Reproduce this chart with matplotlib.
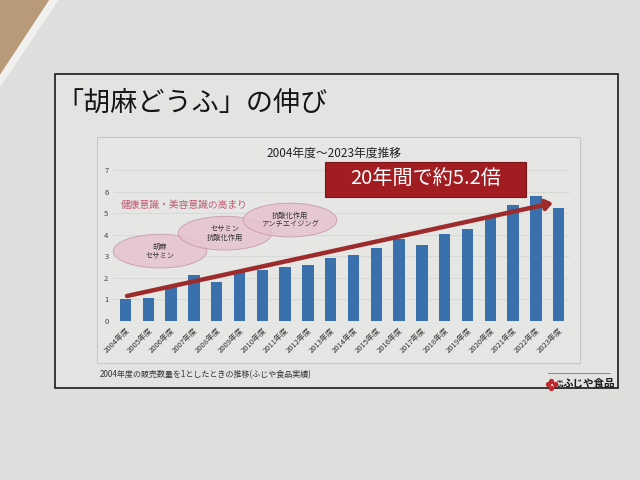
import matplotlib
matplotlib.use("Agg")
import matplotlib.pyplot as plt
from matplotlib.patches import Rectangle, Ellipse, Polygon, FancyArrowPatch

plt.rcParams['font.family'] = ['Noto Sans CJK JP', 'DejaVu Sans']

# ---- data ----
years = [str(y) + "年度" for y in range(2004, 2024)]
values = [1.0, 1.08, 1.58, 2.15, 1.83, 2.33, 2.37, 2.5, 2.6, 2.94,
          3.05, 3.4, 3.78, 3.52, 4.02, 4.25, 4.88, 5.4, 5.8, 5.22]
yticks = [0, 1, 2, 3, 4, 5, 6, 7]
slide_title = "「胡麻どうふ」の伸び"
chart_title = "2004年度～2023年度推移"
callout = "20年間で約5.2倍"
trend_label = "健康意識・美容意識の高まり"
bubbles = ["胡麻\nセサミン", "セサミン\n抗酸化作用", "抗酸化作用\nアンチエイジング"]
footnote = "2004年度の販売数量を1としたときの推移(ふじや食品実績)"
company = "ふじや食品"

W, H = 640, 480
fig = plt.figure(figsize=(6.4, 4.8), dpi=100)
fig.patch.set_facecolor('#dededc')

# background / slide decorations in pixel coordinates
bg = fig.add_axes([0, 0, 1, 1], zorder=0)
bg.set_xlim(0, W)
bg.set_ylim(H, 0)
bg.axis('off')
bg.add_patch(Polygon([[0, 0], [50, 0], [0, 76]], closed=True, color='#b89a78', zorder=1))
bg.add_patch(Polygon([[50, 0], [58, 0], [0, 86], [0, 76]], closed=True, color='#f0f0ee', zorder=1))
bg.add_patch(Rectangle((55, 74), 563, 314, facecolor='#e3e3e1', edgecolor='#1a1a1a', lw=1.2, zorder=2))
bg.add_patch(Rectangle((97, 137), 483, 226, facecolor='#e6e6e4', edgecolor='#c8c8c6', lw=0.8, zorder=3))
bg.text(56, 103, slide_title, fontsize=19.5, color='#151515', va='center', ha='left', zorder=4)
bg.text(334, 153, chart_title, fontsize=8.5, color='#222222', va='center', ha='center', zorder=4)
bg.text(100, 375, footnote, fontsize=5.8, color='#333333', va='center', ha='left', zorder=4)
# company logo
for dx, dy in [(0, -3.5), (-3.5, 0), (3.5, 0), (0, 3.5)]:
    bg.plot(551 + dx, 384 + dy, 'o', color='#c0282c', ms=2.8, zorder=5)
bg.text(557, 384, "株式\n会社", fontsize=2.6, color='#222222', va='center', ha='left', linespacing=1.0, zorder=5)
bg.text(563, 384, company, fontsize=7.6, color='#1a1a1a', va='center', ha='left', fontweight='bold', zorder=5)
bg.plot([548, 610], [373, 373], color='#666666', lw=0.5, zorder=5)

# ---- chart ----
ax = fig.add_axes([114 / W, 1 - 321 / H, 456 / W, 151 / H], zorder=5)
ax.patch.set_alpha(0)
x = list(range(len(values)))
ax.bar(x, values, width=0.5, color='#3a71ac', zorder=3)
ax.set_xlim(-0.5, len(values) - 0.5)
ax.set_ylim(0, 7)
ax.set_yticks(yticks)
ax.set_yticklabels([str(t) for t in yticks], fontsize=5.5, color='#444444')
ax.set_xticks(x)
ax.set_xticklabels(years, fontsize=5.5, color='#333333', rotation=45, ha='right', rotation_mode='anchor')
ax.tick_params(length=0, pad=4)
ax.yaxis.grid(True, color='#d6d6d4', lw=0.6, zorder=0)
for s in ax.spines.values():
    s.set_visible(False)

# annotation decorations
ell_specs = [(1.52, 3.24), (4.37, 4.07), (7.22, 4.68)]
for (cx, cy), txt in zip(ell_specs, bubbles):
    ax.add_patch(Ellipse((cx, cy), 4.1, 1.56, facecolor='#e6c3d0', edgecolor='#c79aac',
                         lw=0.7, alpha=0.85, zorder=4, clip_on=False))
    ax.text(cx, cy, txt, fontsize=5.2, color='#333333', ha='center', va='center',
            linespacing=1.2, zorder=5)
ax.text(-0.19, 5.37, trend_label, fontsize=7, color='#c05a78', ha='left', va='center', zorder=5)

arrow = FancyArrowPatch((0.07, 1.16), (18.75, 5.47), arrowstyle='-|>,head_length=4,head_width=3',
                        color='#9e2b2c', lw=3.2, zorder=6, clip_on=False, shrinkA=0, shrinkB=0)
ax.add_patch(arrow)

ax.add_patch(Rectangle((8.75, 5.74), 8.82, 1.62, facecolor='#a21d22', edgecolor='#7a1418',
                       lw=0.8, zorder=6, clip_on=False))
ax.text(13.16, 6.55, callout, fontsize=14.5, color='white', ha='center', va='center', zorder=7)

fig.savefig('out.png', dpi=100, facecolor=fig.get_facecolor())
